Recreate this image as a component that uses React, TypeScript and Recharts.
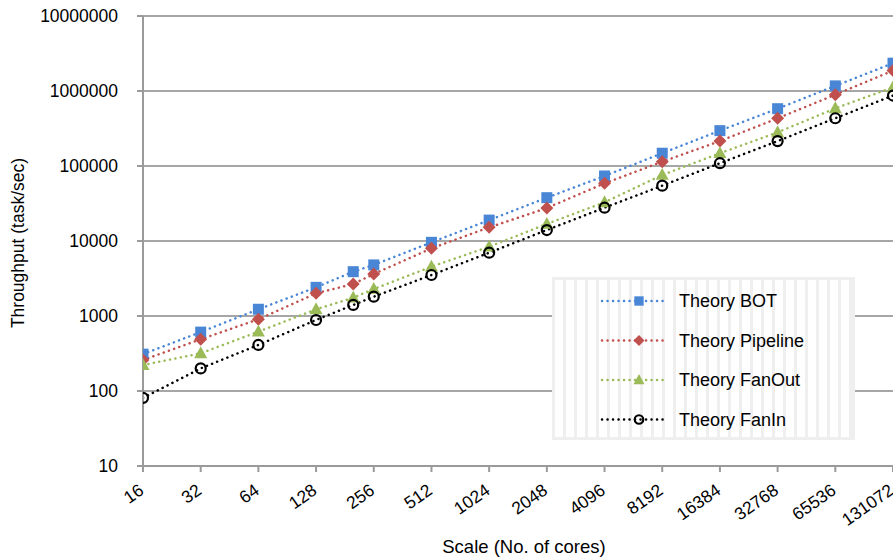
import React from "react"
import {
  LineChart,
  Line,
  XAxis,
  YAxis,
  CartesianGrid,
} from "recharts"

const cores = [16, 32, 64, 128, 200, 256, 512, 1024, 2048, 4096, 8192, 16384, 32768, 65536, 131072]

const theoryBot = [310, 610, 1230, 2410, 3900, 4800, 9600, 19000, 37800, 73600, 148000, 296000, 581000, 1170000, 2350000]
const theoryPipeline = [259, 489, 904, 2005, 2670, 3630, 7980, 15200, 27500, 58700, 114000, 215000, 432000, 893000, 1870000]
const theoryFanOut = [222, 318, 618, 1228, 1754, 2291, 4545, 8390, 16900, 32800, 75900, 148000, 281000, 587000, 1120000]
const theoryFanIn = [81, 200, 411, 885, 1403, 1810, 3520, 6980, 14000, 27800, 54700, 109000, 215000, 433000, 870000]

const xTicks = [16, 32, 64, 128, 256, 512, 1024, 2048, 4096, 8192, 16384, 32768, 65536, 131072]
const yTicks = [10, 100, 1000, 10000, 100000, 1000000, 10000000]

const FONT = "'Liberation Sans', Arial, sans-serif"
const AXIS_GRAY = "#9a9a9a"

type Shape = "square" | "diamond" | "triangle" | "circle"

const SERIES: { key: string; name: string; color: string; shape: Shape; values: number[] }[] = [
  { key: "bot", name: "Theory BOT", color: "#4a86d6", shape: "square", values: theoryBot },
  { key: "pipeline", name: "Theory Pipeline", color: "#c0504d", shape: "diamond", values: theoryPipeline },
  { key: "fanout", name: "Theory FanOut", color: "#9bbb59", shape: "triangle", values: theoryFanOut },
  { key: "fanin", name: "Theory FanIn", color: "#000000", shape: "circle", values: theoryFanIn },
]

const rows = cores.map((c, i) => {
  const r: Record<string, number> = { cores: c }
  SERIES.forEach((s) => (r[s.key] = s.values[i]))
  return r
})

function Marker({ shape, cx, cy, color, k = 1 }: { shape: Shape; cx: number; cy: number; color: string; k?: number }) {
  if (cx == null || cy == null) return null
  if (shape === "square") {
    const h = 5.5 * k
    return <rect x={cx - h} y={cy - h} width={2 * h} height={2 * h} fill={color} />
  }
  if (shape === "diamond") {
    const h = 6.5 * k
    return <polygon points={`${cx},${cy - h} ${cx + h},${cy} ${cx},${cy + h} ${cx - h},${cy}`} fill={color} />
  }
  if (shape === "triangle") {
    const h = 6.5 * k
    return <polygon points={`${cx},${cy - h - 0.5} ${cx + h},${cy + h * 0.75} ${cx - h},${cy + h * 0.75}`} fill={color} />
  }
  return <circle cx={cx} cy={cy} r={5 * k} fill="none" stroke={color} strokeWidth={2.2} />
}

const XTick = (props: any) => {
  const { x, y, payload } = props
  return (
    <g transform={`translate(${x + 2},${y + 21}) rotate(-35)`}>
      <text x={0} y={0} textAnchor="end" fontFamily={FONT} fontSize={17.5} fill="#000">
        {payload.value}
      </text>
    </g>
  )
}

function LegendBox() {
  return (
    <div
      style={{
        position: "absolute",
        left: 552,
        top: 277,
        width: 297,
        height: 157,
        border: "3px solid #efefef",
        background: "repeating-linear-gradient(90deg, #ffffff 0px, #ffffff 8px, #efefef 8px, #efefef 11px)",
      }}
    >
      <svg width={297} height={157} style={{ position: "absolute", left: 0, top: 0 }}>
        {SERIES.map((s, i) => {
          const cy = 21 + i * 39.5
          return (
            <g key={s.key}>
              <line x1={47} x2={113} y1={cy} y2={cy} stroke={s.color} strokeWidth={2.5} strokeDasharray="0.1 5.4" strokeLinecap="round" />
              <Marker shape={s.shape} cx={84} cy={cy} color={s.color} k={0.85} />
              <text x={124} y={cy + 6} fontFamily={FONT} fontSize={18} fill="#000">
                {s.name}
              </text>
            </g>
          )
        })}
      </svg>
    </div>
  )
}

export default function App() {
  return (
    <div style={{ position: "absolute", left: 0, top: 0, width: 893, height: 557, overflow: "hidden", background: "#fff" }}>
      <LineChart width={893} height={557} data={rows} margin={{ top: 16, right: 0, left: 0, bottom: 0 }}>
        <CartesianGrid horizontal vertical={false} stroke="#a6a6a6" strokeWidth={2} />
        <XAxis
          dataKey="cores"
          type="number"
          scale="log"
          domain={[16, 131072]}
          ticks={xTicks}
          allowDataOverflow
          height={91}
          stroke={AXIS_GRAY}
          strokeWidth={2}
          tickSize={6}
          tickMargin={0}
          tick={<XTick />}
          interval={0}
          label={(p: any) => {
            const vb = p.viewBox
            return (
              <text x={vb.x + vb.width / 2 + 6} y={553} textAnchor="middle" fontFamily={FONT} fontSize={18.5} fill="#000">
                Scale (No. of cores)
              </text>
            )
          }}
        />
        <YAxis
          type="number"
          scale="log"
          domain={[10, 10000000]}
          ticks={yTicks}
          allowDataOverflow
          width={143}
          stroke={AXIS_GRAY}
          strokeWidth={2}
          tickSize={6}
          tickMargin={19}
          interval={0}
          tick={{ fontFamily: FONT, fontSize: 17.5, fill: "#000" }}
          label={(p: any) => {
            const vb = p.viewBox
            const cy = vb.y + vb.height / 2 + 2
            return (
              <text x={24} y={cy} transform={`rotate(-90, 24, ${cy})`} textAnchor="middle" fontFamily={FONT} fontSize={17.5} fill="#000">
                Throughput (task/sec)
              </text>
            )
          }}
        />
        {SERIES.map((s) => (
          <Line
            key={s.key}
            dataKey={s.key}
            name={s.name}
            stroke={s.color}
            strokeWidth={2.5}
            strokeDasharray="0.1 5.4"
            strokeLinecap="round"
            isAnimationActive={false}
            dot={(p: any) => <Marker key={`${s.key}-${p.index}`} shape={s.shape} cx={p.cx} cy={p.cy} color={s.color} />}
            activeDot={false}
          />
        ))}
      </LineChart>
      <LegendBox />
    </div>
  )
}
